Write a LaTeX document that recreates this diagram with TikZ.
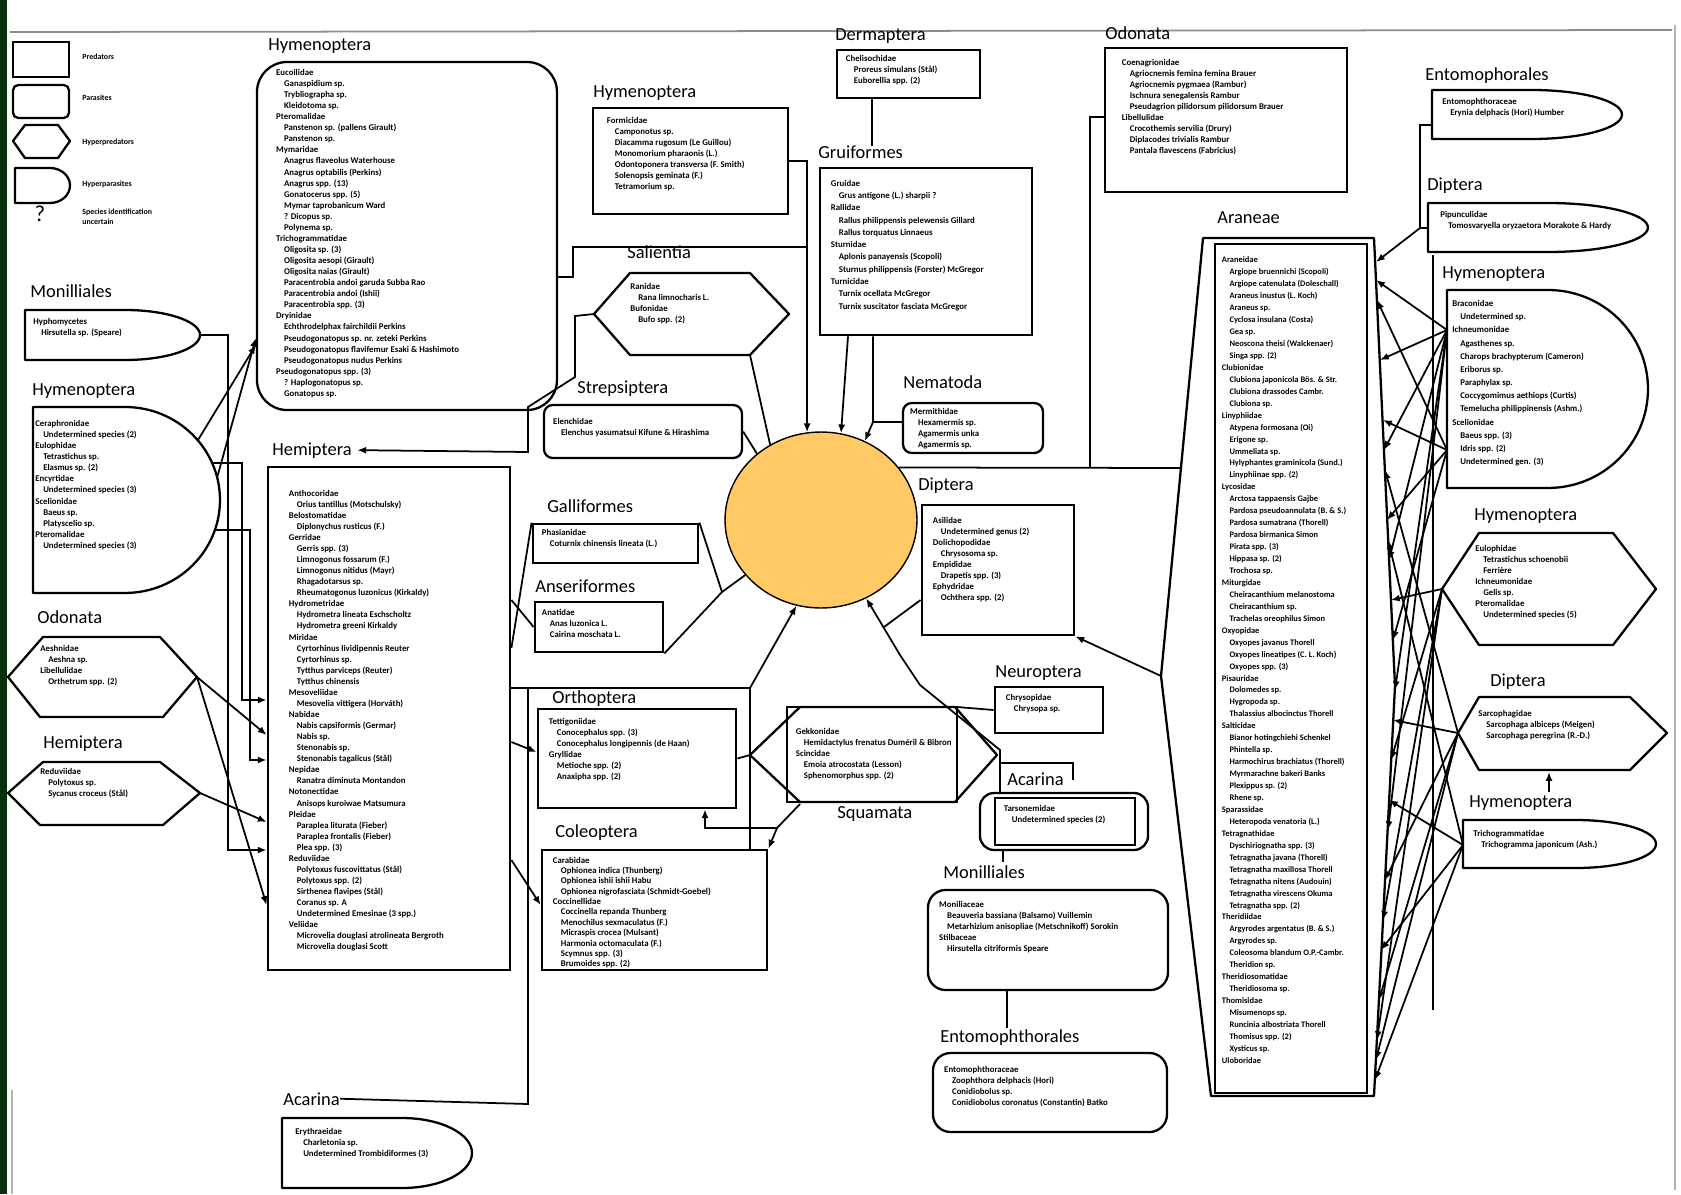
\documentclass[tikz,border=0pt]{standalone}
\usepackage{fontspec}
\setmainfont{Carlito}
\usetikzlibrary{arrows.meta,fit,shapes.geometric}

\definecolor{coreyellow}{RGB}{255,201,101}
\definecolor{scangreen}{RGB}{8,48,10}
\newcommand{\spind}{\hspace*{0.9em}}

\begin{document}
\begin{tikzpicture}[
    x=0.02cm, y=-0.02cm,
    lab/.style={font=\fontsize{10.5}{12}\selectfont, anchor=base west, inner sep=0},
    legtext/.style={font=\fontsize{4.5}{5.5}\selectfont\bfseries, anchor=west, inner sep=0, align=left},
    spec/.style={font=\fontsize{5}{6.3}\selectfont\bfseries, anchor=north west, inner sep=0, align=left},
    pred/.style={draw, line width=1.6pt, inner sep=0},
    para/.style={draw, line width=1.3pt, rounded corners=5pt, inner sep=0},
    outline/.style={line width=1.3pt, line join=round},
    link/.style={line width=1pt},
    arr/.style={line width=1pt, -{Latex[length=5pt,width=4pt]}}]
    \useasboundingbox (0,0) rectangle (1681,1194);

    % scan edges
    \fill[scangreen] (0,0) rectangle (7,1194);
    \draw[black!45, line width=1pt] (10,32) -- (1672,30);
    \draw[black!30, line width=1pt] (1675,25) -- (1675,1190);
    \draw[black!30, line width=1pt] (12,1090) -- (12,1194);

    % legend
    \node[pred, fit={(13,42) (69,77)}] (legPred) {};
    \node[legtext] at (82,57) {Predators};
    \node[para, rounded corners=3pt, fit={(13,85) (69,118)}] (legPara) {};
    \node[legtext] at (82,98) {Parasites};
    \draw[outline] (25,125) -- (58,125) -- (70,141) -- (58,158) -- (25,158) -- (13,141) -- cycle;
    \node[legtext] at (82,142) {Hyperpredators};
    \draw[outline] (15,168) -- (50,168) arc[start angle=90, end angle=-90, x radius=0.4cm, y radius=0.35cm] -- (15,203) -- cycle;
    \node[legtext] at (82,184) {Hyperparasites};
    \node[font=\fontsize{13}{13}\selectfont, inner sep=0] (legQ) at (40,214) {?};
    \node[legtext] at (82,217) {Species identification\\uncertain};

    % centre
    \node[ellipse, draw, line width=0.8pt, fill=coreyellow, minimum width=3.84cm, minimum height=3.52cm, inner sep=0] (core) at (821,520) {};

    % left column
    \node[lab] (monLLab) at (30,297) {Monilliales};
    \draw[outline] (25,310) -- (125,310) arc[start angle=90, end angle=-90, x radius=1.5cm, y radius=0.5cm] -- (25,360) -- cycle;
    \coordinate (monLr) at (200,335);
    \node[spec] at (33,318) {Hyphomycetes\\\spind Hirsutella sp. (Speare)};

    \node[lab] (hymLLab) at (32,395) {Hymenoptera};
    \draw[outline] (33,407) -- (125,407) arc[start angle=90, end angle=-90, x radius=1.9cm, y radius=1.86cm] -- (33,593) -- cycle;
    \node[spec] at (35,420) {Ceraphronidae\\\spind Undetermined species (2)\\Eulophidae\\\spind Tetrastichus sp.\\\spind Elasmus sp. (2)\\Encyrtidae\\\spind Undetermined species (3)\\Scelionidae\\\spind Baeus sp.\\\spind Platyscelio sp.\\Pteromalidae\\\spind Undetermined species (3)};

    \node[lab] (odoLLab) at (37,623) {Odonata};
    \draw[outline] (43,637) -- (160,637) -- (197,677) -- (163,717) -- (40,717) -- (8,677) -- cycle;
    \coordinate (odoLr) at (197,677);
    \node[spec] at (40,645) {Aeshnidae\\\spind Aeshna sp.\\Libellulidae\\\spind Orthetrum spp. (2)};

    \node[lab] (hemLLab) at (43,748) {Hemiptera};
    \draw[outline] (43,762) -- (160,762) -- (200,793) -- (163,825) -- (40,825) -- (8,793) -- cycle;
    \coordinate (hemLr) at (200,793);
    \node[spec] at (40,768) {Reduviidae\\\spind Polytoxus sp.\\\spind Sycanus croceus (St\aa l)};

    % Hymenoptera, Hemiptera, Acarina
    \node[lab] (hymALab) at (268,50) {Hymenoptera};
    \node[para, rounded corners=0.6cm, fit={(257,62) (557,410)}] (hymA) {};
    \node[spec] at ([shift={(20,8)}]hymA.north west) {Eucoilidae\\\spind Ganaspidium sp.\\\spind Trybliographa sp.\\\spind Kleidotoma sp.\\Pteromalidae\\\spind Panstenon sp. (pallens Girault)\\\spind Panstenon sp.\\Mymaridae\\\spind Anagrus flaveolus Waterhouse\\\spind Anagrus optabilis (Perkins)\\\spind Anagrus spp. (13)\\\spind Gonatocerus spp. (5)\\\spind Mymar taprobanicum Ward\\\spind ? Dicopus sp.\\\spind Polynema sp.\\Trichogrammatidae\\\spind Oligosita sp. (3)\\\spind Oligosita aesopi (Girault)\\\spind Oligosita naias (Girault)\\\spind Paracentrobia andoi garuda Subba Rao\\\spind Paracentrobia andoi (Ishii)\\\spind Paracentrobia spp. (3)\\Dryinidae\\\spind Echthrodelphax fairchildii Perkins\\\spind Pseudogonatopus sp. nr. zeteki Perkins\\\spind Pseudogonatopus flavifemur Esaki \& Hashimoto\\\spind Pseudogonatopus nudus Perkins\\Pseudogonatopus spp. (3)\\\spind ? Haplogonatopus sp.\\\spind Gonatopus sp.};

    \node[lab] (hemBLab) at (272,455) {Hemiptera};
    \node[pred, fit={(268,467) (510,970)}] (hemB) {};
    \node[spec] at ([shift={(22,24)}]hemB.north west) {Anthocoridae\\\spind Orius tantillus (Motschulsky)\\Belostomatidae\\\spind Diplonychus rusticus (F.)\\Gerridae\\\spind Gerris spp. (3)\\\spind Limnogonus fossarum (F.)\\\spind Limnogonus nitidus (Mayr)\\\spind Rhagadotarsus sp.\\\spind Rheumatogonus luzonicus (Kirkaldy)\\Hydrometridae\\\spind Hydrometra lineata Eschscholtz\\\spind Hydrometra greeni Kirkaldy\\Miridae\\\spind Cyrtorhinus lividipennis Reuter\\\spind Cyrtorhinus sp.\\\spind Tytthus parviceps (Reuter)\\\spind Tytthus chinensis\\Mesoveliidae\\\spind Mesovelia vittigera (Horv\'ath)\\Nabidae\\\spind Nabis capsiformis (Germar)\\\spind Nabis sp.\\\spind Stenonabis sp.\\\spind Stenonabis tagalicus (St\aa l)\\Nepidae\\\spind Ranatra diminuta Montandon\\Notonectidae\\\spind Anisops kuroiwae Matsumura\\Pleidae\\\spind Paraplea liturata (Fieber)\\\spind Paraplea frontalis (Fieber)\\\spind Plea spp. (3)\\Reduviidae\\\spind Polytoxus fuscovittatus (St\aa l)\\\spind Polytoxus spp. (2)\\\spind Sirthenea flavipes (St\aa l)\\\spind Coranus sp. A\\\spind Undetermined Emesinae (3 spp.)\\Veliidae\\\spind Microvelia douglasi atrolineata Bergroth\\\spind Microvelia douglasi Scott};

    \node[lab] (acaLLab) at (283,1105) {Acarina};
    \draw[outline] (282,1118) -- (402,1118) arc[start angle=90, end angle=-90, x radius=1.4cm, y radius=0.7cm] -- (282,1188) -- cycle;
    \node[spec] at (295,1128) {Erythraeidae\\\spind Charletonia sp.\\\spind Undetermined Trombidiformes (3)};

    % middle column
    \node[lab] (hymBLab) at (593,97) {Hymenoptera};
    \node[pred, fit={(593,108) (788,214)}] (hymB) {};
    \node[spec] at ([shift={(15,10)}]hymB.north west) {Formicidae\\\spind Camponotus sp.\\\spind Diacamma rugosum (Le Guillou)\\\spind Monomorium pharaonis (L.)\\\spind Odontoponera transversa (F. Smith)\\\spind Solenopsis geminata (F.)\\\spind Tetramorium sp.};

    \node[lab] (salLab) at (627,258) {Salientia};
    \draw[outline] (630,273) -- (750,273) -- (789,314) -- (750,355) -- (630,355) -- (594,314) -- cycle;
    \coordinate (salW) at (594,314);
    \coordinate (salSE) at (750,355);
    \node[spec] at (630,283) {Ranidae\\\spind Rana limnocharis L.\\Bufonidae\\\spind Bufo spp. (2)};

    \node[lab] (strepLab) at (577,393) {Strepsiptera};
    \node[para, fit={(544,405) (742,458)}] (strep) {};
    \node[spec] at ([shift={(10,14)}]strep.north west) {Elenchidae\\\spind Elenchus yasumatsui Kifune \& Hirashima};

    \node[lab] (gallLab) at (547,512) {Galliformes};
    \node[pred, fit={(533,524) (698,563)}] (gall) {};
    \node[spec] at ([shift={(10,6)}]gall.north west) {Phasianidae\\\spind Coturnix chinensis lineata (L.)};

    \node[lab] (anseLab) at (535,592) {Anseriformes};
    \node[pred, fit={(535,602) (663,652)}] (anse) {};
    \node[spec] at ([shift={(8,8)}]anse.north west) {Anatidae\\\spind Anas luzonica L.\\\spind Cairina moschata L.};

    \node[lab] (ortLab) at (552,703) {Orthoptera};
    \node[pred, fit={(538,709) (736,808)}] (ortB) {};
    \node[spec] at ([shift={(12,10)}]ortB.north west) {Tettigoniidae\\\spind Conocephalus spp. (3)\\\spind Conocephalus longipennis (de Haan)\\Gryllidae\\\spind Metioche spp. (2)\\\spind Anaxipha spp. (2)};

    \draw[outline] (800,707) -- (955,707) -- (997,755) -- (955,802) -- (800,802) -- (750,755) -- cycle;
    \node[pred, fit={(787,707) (957,802)}] (squa) {};
    \coordinate (squW) at (750,755);
    \coordinate (squBL) at (800,804);
    \node[lab] (squaLab) at (837,818) {Squamata};
    \node[spec] at ([shift={(10,22)}]squa.north west) {Gekkonidae\\\spind Hemidactylus frenatus Dum\'eril \& Bibron\\Scincidae\\\spind Emoia atrocostata (Lesson)\\\spind Sphenomorphus spp. (2)};

    \node[lab] (coleLab) at (555,837) {Coleoptera};
    \node[pred, fit={(542,850) (767,970)}] (coleB) {};
    \node[spec, font=\fontsize{5}{5.9}\selectfont\bfseries] at ([shift={(12,8)}]coleB.north west) {Carabidae\\\spind Ophionea indica (Thunberg)\\\spind Ophionea ishii ishii Habu\\\spind Ophionea nigrofasciata (Schmidt-Goebel)\\Coccinellidae\\\spind Coccinella repanda Thunberg\\\spind Menochilus sexmaculatus (F.)\\\spind Micraspis crocea (Mulsant)\\\spind Harmonia octomaculata (F.)\\\spind Scymnus spp. (3)\\\spind Brumoides spp. (2)};

    % upper middle
    \node[lab] (dermLab) at (835,40) {Dermaptera};
    \node[pred, fit={(837,50) (980,98)}] (derm) {};
    \node[spec] at ([shift={(10,6)}]derm.north west) {Chelisochidae\\\spind Proreus simulans (St\aa l)\\\spind Euborellia spp. (2)};

    \node[lab] (gruiLab) at (818,158) {Gruiformes};
    \node[pred, fit={(820,168) (1032,335)}] (grui) {};
    \node[spec, font=\fontsize{5}{7}\selectfont\bfseries] at ([shift={(12,13)}]grui.north west) {Gruidae\\\spind Grus antigone (L.) sharpii ?\\Rallidae\\\spind Rallus philippensis pelewensis Gillard\\\spind Rallus torquatus Linnaeus\\Sturnidae\\\spind Aplonis panayensis (Scopoli)\\\spind Sturnus philippensis (Forster) McGregor\\Turnicidae\\\spind Turnix ocellata McGregor\\\spind Turnix suscitator fasciata McGregor};

    \node[lab] (nemaLab) at (903,388) {Nematoda};
    \node[para, fit={(903,403) (1043,453)}] (nema) {};
    \node[spec] at ([shift={(8,6)}]nema.north west) {Mermithidae\\\spind Hexamermis sp.\\\spind Agamermis unka\\\spind Agamermis sp.};

    \node[lab] (dipCLab) at (918,490) {Diptera};
    \node[pred, fit={(922,505) (1074,635)}] (dipC) {};
    \node[spec] at ([shift={(12,13)}]dipC.north west) {Asilidae\\\spind Undetermined genus (2)\\Dolichopodidae\\\spind Chrysosoma sp.\\Empididae\\\spind Drapetis spp. (3)\\Ephydridae\\\spind Ochthera spp. (2)};

    % lower middle
    \node[lab] (neurLab) at (995,677) {Neuroptera};
    \node[pred, fit={(995,687) (1103,733)}] (neur) {};
    \node[spec] at ([shift={(12,8)}]neur.north west) {Chrysopidae\\\spind Chrysopa sp.};

    \node[lab] (acaCLab) at (1007,785) {Acarina};
    \node[para, rounded corners=8pt, fit={(980,793) (1148,850)}] (acaCo) {};
    \node[pred, fit={(995,798) (1135,845)}] (acaC) {};
    \node[spec] at ([shift={(10,8)}]acaC.north west) {Tarsonemidae\\\spind Undetermined species (2)};

    \node[lab] (monCLab) at (943,878) {Monilliales};
    \node[para, rounded corners=10pt, fit={(928,890) (1168,990)}] (monC) {};
    \node[spec] at ([shift={(12,12)}]monC.north west) {Moniliaceae\\\spind Beauveria bassiana (Balsamo) Vuillemin\\\spind Metarhizium anisopliae (Metschnikoff) Sorokin\\Stilbaceae\\\spind Hirsutella citriformis Speare};

    \node[lab] (entCLab) at (940,1042) {Entomophthorales};
    \node[para, rounded corners=10pt, fit={(933,1053) (1167,1132)}] (entC) {};
    \node[spec] at ([shift={(12,14)}]entC.north west) {Entomophthoraceae\\\spind Zoophthora delphacis (Hori)\\\spind Conidiobolus sp.\\\spind Conidiobolus coronatus (Constantin) Batko};

    % right side
    \node[lab] (odoBLab) at (1105,39) {Odonata};
    \node[pred, fit={(1105,48) (1347,192)}] (odoB) {};
    \node[spec] at ([shift={(18,12)}]odoB.north west) {Coenagrionidae\\\spind Agriocnemis femina femina Brauer\\\spind Agriocnemis pygmaea (Rambur)\\\spind Ischnura senegalensis Rambur\\\spind Pseudagrion pilidorsum pilidorsum Brauer\\Libellulidae\\\spind Crocothemis servilia (Drury)\\\spind Diplacodes trivialis Rambur\\\spind Pantala flavescens (Fabricius)};

    \node[lab] (aranLab) at (1217,223) {Araneae};
    \draw[outline] (1203,238) -- (1374,238) -- (1395,686) -- (1374,1096) -- (1211,1096) -- (1161,676) -- cycle;
    \coordinate (aranW) at (1161,676);
    \node[pred, fit={(1215,244) (1367,1093)}] (aran) {};
    \node[spec, font=\fontsize{4.8}{6.8}\selectfont\bfseries] at ([shift={(8,14)}]aran.north west) {Araneidae\\\spind Argiope bruennichi (Scopoli)\\\spind Argiope catenulata (Doleschall)\\\spind Araneus inustus (L. Koch)\\\spind Araneus sp.\\\spind Cyclosa insulana (Costa)\\\spind Gea sp.\\\spind Neoscona theisi (Walckenaer)\\\spind Singa spp. (2)\\Clubionidae\\\spind Clubiona japonicola B\"os. \& Str.\\\spind Clubiona drassodes Cambr.\\\spind Clubiona sp.\\Linyphiidae\\\spind Atypena formosana (Oi)\\\spind Erigone sp.\\\spind Ummeliata sp.\\\spind Hylyphantes graminicola (Sund.)\\\spind Linyphiinae spp. (2)\\Lycosidae\\\spind Arctosa tappaensis Gajbe\\\spind Pardosa pseudoannulata (B. \& S.)\\\spind Pardosa sumatrana (Thorell)\\\spind Pardosa birmanica Simon\\\spind Pirata spp. (3)\\\spind Hippasa sp. (2)\\\spind Trochosa sp.\\Miturgidae\\\spind Cheiracanthium melanostoma\\\spind Cheiracanthium sp.\\\spind Trachelas oreophilus Simon\\Oxyopidae\\\spind Oxyopes javanus Thorell\\\spind Oxyopes lineatipes (C. L. Koch)\\\spind Oxyopes spp. (3)\\Pisauridae\\\spind Dolomedes sp.\\\spind Hygropoda sp.\\\spind Thalassius albocinctus Thorell\\Salticidae\\\spind Bianor hotingchiehi Schenkel\\\spind Phintella sp.\\\spind Harmochirus brachiatus (Thorell)\\\spind Myrmarachne bakeri Banks\\\spind Plexippus sp. (2)\\\spind Rhene sp.\\Sparassidae\\\spind Heteropoda venatoria (L.)\\Tetragnathidae\\\spind Dyschiriognatha spp. (3)\\\spind Tetragnatha javana (Thorell)\\\spind Tetragnatha maxillosa Thorell\\\spind Tetragnatha nitens (Audouin)\\\spind Tetragnatha virescens Okuma\\\spind Tetragnatha spp. (2)\\Theridiidae\\\spind Argyrodes argentatus (B. \& S.)\\\spind Argyrodes sp.\\\spind Coleosoma blandum O.P.-Cambr.\\\spind Theridion sp.\\Theridiosomatidae\\\spind Theridiosoma sp.\\Thomisidae\\\spind Misumenops sp.\\\spind Runcinia albostriata Thorell\\\spind Thomisus spp. (2)\\\spind Xysticus sp.\\Uloboridae};

    \node[lab] (entRLab) at (1425,80) {Entomophorales};
    \draw[outline] (1432,90) -- (1532,90) arc[start angle=90, end angle=-90, x radius=1.8cm, y radius=0.49cm] -- (1432,139) -- cycle;
    \node[spec] at (1442,98) {Entomophthoraceae\\\spind Erynia delphacis (Hori) Humber};

    \node[lab] (dipRLab) at (1427,190) {Diptera};
    \draw[outline] (1428,203) -- (1548,203) arc[start angle=90, end angle=-90, x radius=2cm, y radius=0.49cm] -- (1428,252) -- cycle;
    \node[spec] at (1440,211) {Pipunculidae\\\spind Tomosvaryella oryzaetora Morakote \& Hardy};

    \node[lab] (hymRLab) at (1442,278) {Hymenoptera};
    \draw[outline] (1447,290) -- (1548,290) arc[start angle=90, end angle=-90, x radius=2cm, y radius=1.98cm] -- (1447,488) -- cycle;
    \node[spec, font=\fontsize{5}{7.5}\selectfont\bfseries] at (1452,300) {Braconidae\\\spind Undetermined sp.\\Ichneumonidae\\\spind Agasthenes sp.\\\spind Charops brachypterum (Cameron)\\\spind Eriborus sp.\\\spind Paraphylax sp.\\\spind Coccygomimus aethiops (Curtis)\\\spind Temelucha philippinensis (Ashm.)\\Scelionidae\\\spind Baeus spp. (3)\\\spind Idris spp. (2)\\\spind Undetermined gen. (3)};

    \node[lab] (hymRHLab) at (1474,520) {Hymenoptera};
    \draw[outline] (1479,533) -- (1613,533) -- (1656,589) -- (1613,645) -- (1479,645) -- (1442,589) -- cycle;
    \coordinate (hymRHw) at (1442,589);
    \node[spec] at (1475,545) {Eulophidae\\\spind Tetrastichus schoenobii\\\spind Ferri\`ere\\Ichneumonidae\\\spind Gelis sp.\\Pteromalidae\\\spind Undetermined species (5)};

    \node[lab] (dipRHLab) at (1490,686) {Diptera};
    \draw[outline] (1479,697) -- (1630,697) -- (1667,733) -- (1630,770) -- (1479,770) -- (1458,733) -- cycle;
    \coordinate (dipRHw) at (1458,733);
    \node[spec] at (1478,710) {Sarcophagidae\\\spind Sarcophaga albiceps (Meigen)\\\spind Sarcophaga peregrina (R.-D.)};

    \node[lab] (hymRBLab) at (1469,807) {Hymenoptera};
    \draw[outline] (1463,820) -- (1576,820) arc[start angle=90, end angle=-90, x radius=1.6cm, y radius=0.48cm] -- (1463,868) -- cycle;
    \coordinate (hymRBw) at (1463,845);
    \node[spec] at (1473,830) {Trichogrammatidae\\\spind Trichogramma japonicum (Ash.)};

    % links, left
    \draw[arr] (monLr) -- (228,335) -- (228,850) -- (hemB.west |- 0,850);
    \draw[arr] (198,440) -- (hymA.west |- 0,345);
    \draw[arr] (217,478) -- (hymA.west |- 0,338);
    \draw[arr] (212,463) -| (242,700) -- (hemB.west |- 0,700);
    \draw[arr] (215,530) -| (250,760) -- (hemB.west |- 0,760);
    \draw[arr] (odoLr) -- (hemB.west |- 0,735);
    \draw[arr] (odoLr) -- (hemB.west |- 0,905);
    \draw[arr] (hemLr) -- (hemB.west |- 0,822);

    % links, middle
    \draw[arr] (hymB.east) -| (core.99);
    \draw[link] (hymA.east |- 0,277) -- (573,277) -- (573,247) -- (807,247);
    \draw[arr] (salW) -- (575,316) -- (575,377) -- (528,407) -- (528,452) -- ([xshift=3pt]hemBLab.east);
    \draw[link] (salSE) -- (core.124);
    \draw[link] (strep.east) -- (core.134);
    \draw[link] (gall.north west) -- (hemB.east |- 0,648);
    \draw[link] (anse.west) -- (hemB.east |- 0,600);
    \coordinate (gaJ) at (722,592);
    \draw[link] (gall.north east) -- (gaJ);
    \draw[link] (anse.south east) -- (gaJ);
    \draw[link] (gaJ) -- (core.216);
    \draw[arr] (hemB.east |- 0,742) -- (ortB.west |- 0,752);
    \draw[arr] (hemB.east |- 0,860) -- (coleB.west |- 0,905);
    \draw[link] (hemB.east |- 0,688) -- (750,688) -- (750,850);
    \draw[arr] (750,688) -- (core.254);
    \draw[link] (acaLLab.east) -- (528,1104) -- (528,688);
    \draw[link] (ortB.east) -- (squW);
    \draw[arr] (squBL) -- (777,828) -- (705,828) -- (ortB.south -| 705,0);
    \draw[arr] (777,828) -- (coleB.north east);
    \draw[link] (neur.west) -- (957,707);
    \draw[arr] (acaCo.north -| 1000,0) -- (1000,750) -- (920,685) -- (900,655) -- (core.300);
    \draw[link] (1000,763) -- (1073,763) -- (1073,780);
    \draw[link] (dipC.west |- 0,600) -- (884,627);
    \draw[link] (acaCo.south -| 1003,0) -- (1003,862);
    \draw[link] (monC.south -| 1007,0) -- (1007,1028);
    \draw[link] (derm.south -| 872,0) -- (872,146);
    \draw[arr] (grui.south -| 848,0) -- (core.77);
    \draw[arr] (grui.south -| 873,0) -- (873,422) -- (core.61);
    \draw[link] (nema.west |- 0,422) -- (873,422);
    \draw[link] (odoB.west |- 0,117) -- (1090,117) -- (1090,468);
    \draw[link] (core.34) -- (1181,468);
    \draw[arr] (aranW) -- (dipC.south east);

    % links, right
    \draw[link] (1432,125) -- (1420,125) -- (1420,228) -- (1428,228);
    \draw[arr] (1420,228) -- (1376,262);
    \draw[link] (1433,255) -- (1433,1010);
    \coordinate (hymRw1) at (1447,330);
    \coordinate (hymRw2) at (1447,450);
    \foreach \tx/\ty in {1376/280, 1380/360, 1384/450, 1389/560, 1395/690, 1388/830}
        \draw[arr] (hymRw1) -- (\tx,\ty);
    \foreach \tx/\ty in {1377/300, 1383/420, 1387/520, 1393/640}
        \draw[arr] (hymRw2) -- (\tx,\ty);
    \foreach \tx/\ty in {1391/600, 1391/760, 1383/920, 1377/1040}
        \draw[arr] (hymRHw) -- (\tx,\ty);
    \foreach \tx/\ty in {1385/470, 1393/720, 1385/880, 1379/1000, 1376/1060}
        \draw[arr] (dipRHw) -- (\tx,\ty);
    \foreach \tx/\ty in {1388/540, 1389/800, 1381/950, 1375/1080}
        \draw[arr] (hymRBw) -- (\tx,\ty);
    \draw[arr] (1549,792) -- (1549,772);
\end{tikzpicture}
\end{document}
